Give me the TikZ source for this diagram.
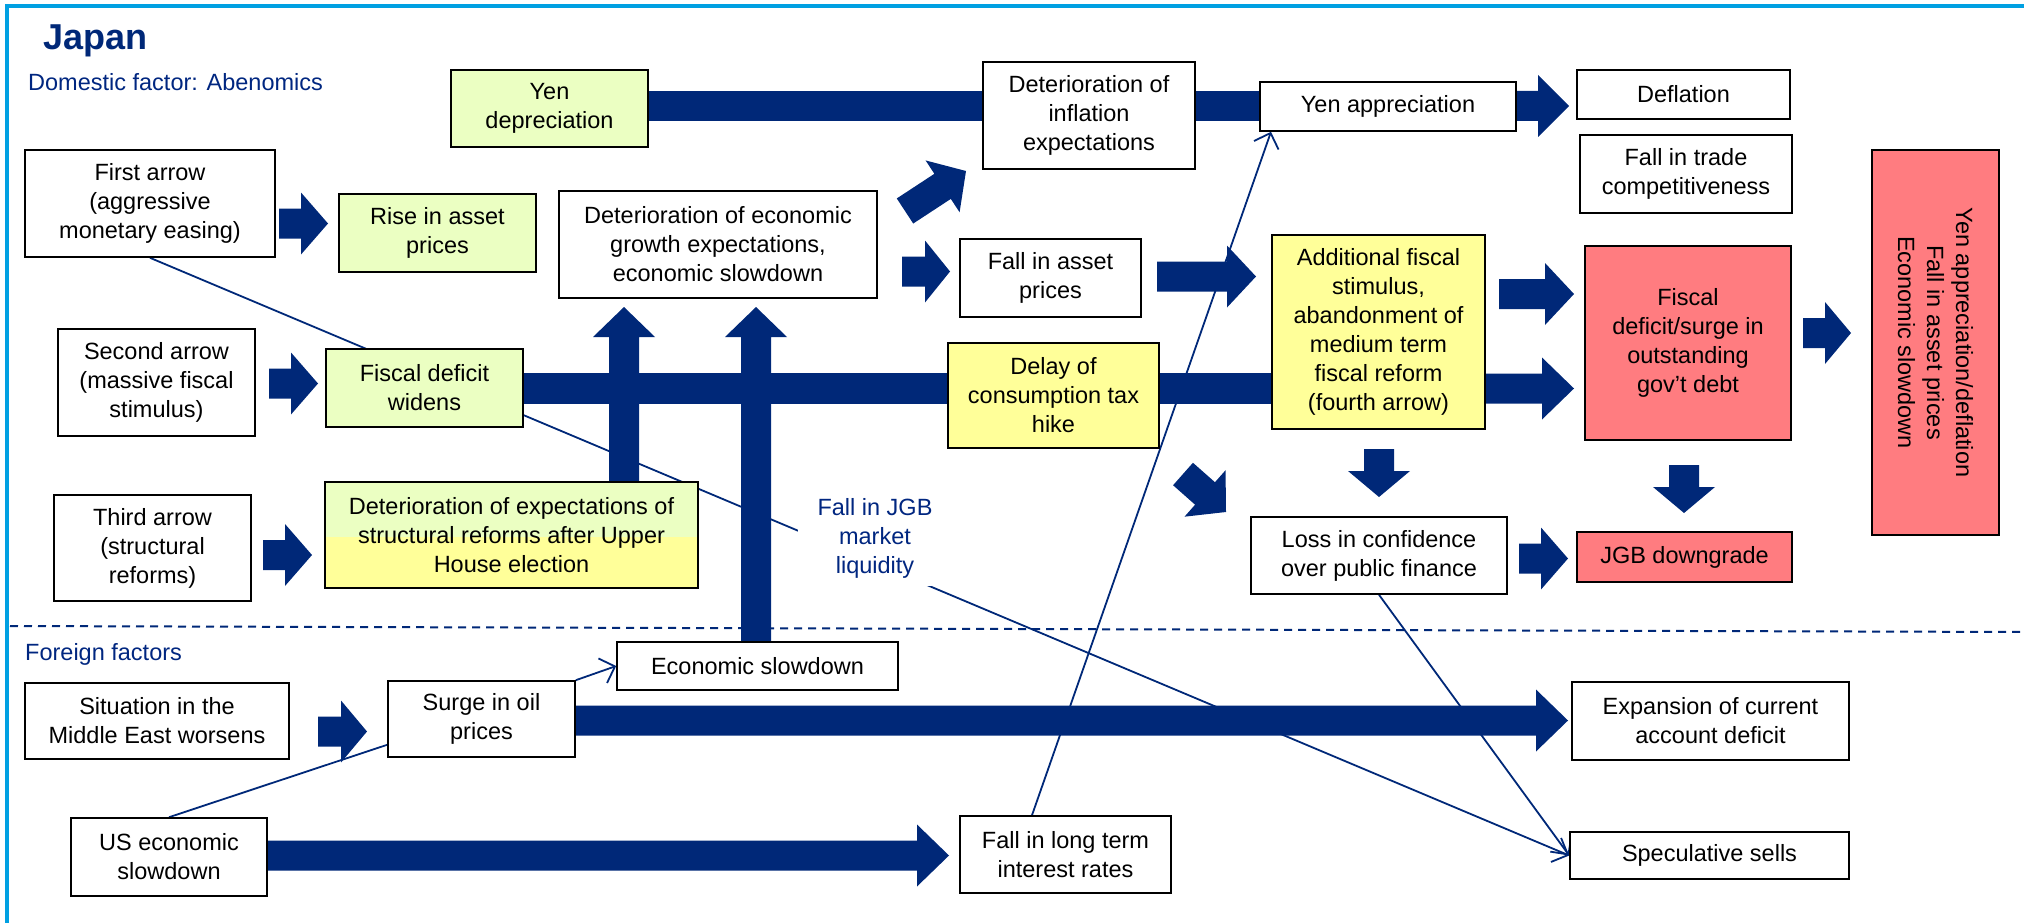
\documentclass[tikz,border=0pt]{standalone}
\usepackage{fontspec}
\setmainfont{Liberation Sans}
\usetikzlibrary{calc,arrows.meta}
\definecolor{navy}{RGB}{0,40,120}
\definecolor{tblue}{RGB}{0,38,128}
\definecolor{framec}{RGB}{0,160,226}
\definecolor{gfill}{RGB}{235,255,194}
\definecolor{yfill}{RGB}{255,255,153}
\definecolor{pfill}{RGB}{255,124,128}
\pgfdeclarelayer{lyrthin}
\pgfdeclarelayer{lyrbar}
\pgfsetlayers{lyrthin,lyrbar,main}
\newcommand\fs{\fontsize{23.5pt}{29pt}\selectfont}
\newcommand\blk[3][28pt]{%
  \coordinate (bkh) at ($(#3)!#1!(#2)$);
  \fill[navy] ($(#2)!15pt!90:(#3)$) -- ($(bkh)!15pt!-90:(#2)$) -- ($(bkh)!31pt!-90:(#2)$) -- (#3) -- ($(bkh)!31pt!90:(#2)$) -- ($(bkh)!15pt!90:(#2)$) -- ($(#2)!15pt!-90:(#3)$) -- cycle;}
\tikzset{
  box/.style={draw=black, line width=1.6pt, fill=white, align=center, inner sep=0pt, font=\fs, text=black},
  conn/.style={navy, line width=1.8pt},
  conna/.style={conn, -{Straight Barb[length=13pt,width=26pt]}},
  bar/.style={navy, line width=30pt},
  lbl/.style={text=tblue, font=\fs, inner sep=0pt, align=center},
}
\begin{document}
\begin{tikzpicture}[x=1pt,y=1pt]
\useasboundingbox (0,0) rectangle (2024,-923);
\draw[framec, line width=4pt] (7,-923) -- (7,-6.5) -- (2024,-6.5);

% titles
\node[anchor=base west, inner sep=0pt, text=navy, font=\fontsize{36pt}{40pt}\selectfont\bfseries] (title) at (43,-50) {Japan};
\node[anchor=base west, lbl] (dom) at (28,-91) {Domestic factor: Abenomics};
\node[anchor=base west, lbl] (foreign) at (25,-660) {Foreign factors};

% boxes
\node[box, fill=gfill, minimum width=197pt, minimum height=77pt] (yendep) at (549.5,-108.5) {Yen\\depreciation};
\node[box, minimum width=250pt, minimum height=107pt] (first) at (150,-203.5) {First arrow\\(aggressive\\monetary easing)};
\node[box, fill=gfill, minimum width=197pt, minimum height=78pt] (rise) at (437.5,-233) {Rise in asset\\prices};
\node[box, minimum width=318pt, minimum height=107pt] (econ) at (718,-244.5) {Deterioration of economic\\growth expectations,\\economic slowdown};
\node[box, minimum width=212pt, minimum height=107pt] (infl) at (1089,-115.5) {Deterioration of\\inflation\\expectations};
\node[box, minimum width=256pt, minimum height=49pt] (yenapp) at (1388,-106.5) {Yen appreciation};
\node[box, minimum width=213pt, minimum height=49pt] (defl) at (1683.5,-94.5) {Deflation};
\node[box, minimum width=212pt, minimum height=78pt] (trade) at (1686,-174) {Fall in trade\\competitiveness};
\node[box, minimum width=181pt, minimum height=78pt] (fallasset) at (1050.5,-278) {Fall in asset\\prices};
\node[box, fill=yfill, minimum width=213pt, minimum height=194pt] (add) at (1378.5,-332) {Additional fiscal\\stimulus,\\abandonment of\\medium term\\fiscal reform\\(fourth arrow)};
\node[box, fill=pfill, minimum width=206pt, minimum height=194pt] (fiscal) at (1688,-343) {Fiscal\\deficit/surge in\\outstanding\\gov’t debt};
\node[box, fill=pfill, rotate=-90, minimum width=385pt, minimum height=127pt] (rot) at (1935.5,-342.5) {Yen appreciation/deflation\\Fall in asset prices\\Economic slowdown};
\node[box, minimum width=197pt, minimum height=107pt] (second) at (156.5,-382.5) {Second arrow\\(massive fiscal\\stimulus)};
\node[box, fill=gfill, minimum width=197pt, minimum height=78pt] (fdw) at (424.5,-388) {Fiscal deficit\\widens};
\node[box, fill=yfill, minimum width=211pt, minimum height=105pt] (delay) at (1053.5,-395.5) {Delay of\\consumption tax\\hike};
\node[box, minimum width=197pt, minimum height=106pt] (third) at (152.5,-548) {Third arrow\\(structural\\reforms)};
\node[box, fill=gfill, minimum width=373pt, minimum height=106pt,
  path picture={\fill[yfill] ([yshift=-55pt]path picture bounding box.north west) rectangle (path picture bounding box.south east);}] (detexp) at (511.5,-535) {Deterioration of expectations of\\structural reforms after Upper\\House election};
\node[lbl, fill=white, inner xsep=20pt, inner ysep=8pt] (liq) at (875,-538) {Fall in JGB\\market\\liquidity};
\node[box, minimum width=256pt, minimum height=77pt] (loss) at (1379,-555.5) {Loss in confidence\\over public finance};
\node[box, fill=pfill, minimum width=215pt, minimum height=50pt] (jgb) at (1684.5,-557) {JGB downgrade};
\node[box, minimum width=264pt, minimum height=76pt] (situation) at (157,-721) {Situation in the\\Middle East worsens};
\node[box, minimum width=187pt, minimum height=76pt] (oil) at (481.5,-719) {Surge in oil\\prices};
\node[box, minimum width=281pt, minimum height=48pt] (econslow) at (757.5,-666) {Economic slowdown};
\node[box, minimum width=277pt, minimum height=78pt] (expansion) at (1710.5,-721) {Expansion of current\\account deficit};
\node[box, minimum width=196pt, minimum height=78pt] (us) at (169,-857) {US economic\\slowdown};
\node[box, minimum width=211pt, minimum height=77pt] (longterm) at (1065.5,-854.5) {Fall in long term\\interest rates};
\node[box, minimum width=279pt, minimum height=47pt] (spec) at (1709.5,-855.5) {Speculative sells};

% thin connectors
\begin{pgfonlayer}{lyrthin}
\draw[navy, line width=2pt, dash pattern=on 8pt off 6pt] (10,-626) -- (2024,-632);
\draw[conna] (first.south) -- (spec.west);
\draw[conna] ([xshift=-33.5pt]longterm.north) -- ([xshift=-117pt]yenapp.south);
\draw[conna] (loss.south) -- (spec.west);
\draw[conn] (us.north) -- ([yshift=13pt]oil.south west);
\draw[conna] (oil.north east) -- (econslow.west);
\end{pgfonlayer}

% thick bars and block arrows
\begin{pgfonlayer}{lyrbar}
\draw[bar] (yendep.east |- 0,-106) -- (yenapp.west |- 0,-106);
\draw[bar, line width=31pt] (fdw.east |- 0,-388.5) -- (add.west |- 0,-388.5);
\blk[27pt]{279,-223.5}{328,-223.5}
\blk[27pt]{269,-383.5}{318,-383.5}
\blk[27pt]{263,-555}{312,-555}
\blk[25pt]{902,-271.5}{950,-271.5}
\blk[29pt]{1157,-276.5}{1256,-276.5}
\blk[31pt]{1517,-106}{1569,-106}
\blk[29pt]{1499,-294}{1574,-294}
\blk[32pt]{1485,-388.5}{1574,-388.5}
\blk[26pt]{1803,-333}{1851,-333}
\blk[27pt]{1519,-558.5}{1568,-558.5}
\blk[26pt]{318,-731.5}{367,-731.5}
\blk[32pt]{575,-720.5}{1568,-720.5}
\blk[32pt]{267,-855.5}{949,-855.5}
\blk[30pt]{624,-482}{624,-307}
\blk[30pt]{756,-642}{756,-307}
\blk[26pt]{1379,-449}{1379,-497}
\blk[26pt]{1684,-465}{1684,-513}
\blk[28pt]{905,-211}{966,-171}
\blk[28pt]{1183,-474}{1226,-512}
\end{pgfonlayer}
\end{tikzpicture}
\end{document}
